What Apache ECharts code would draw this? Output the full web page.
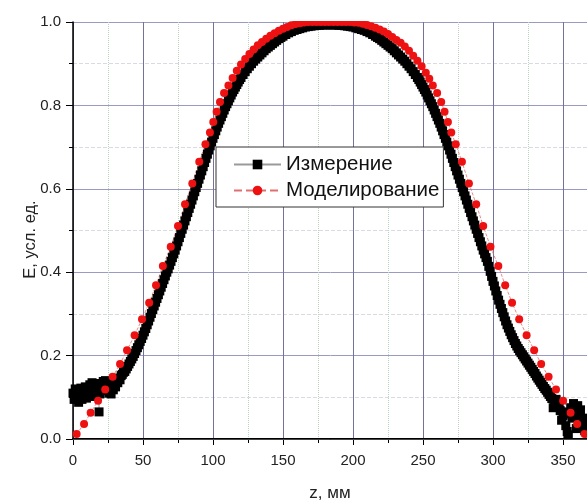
<!DOCTYPE html>
<html>
<head>
<meta charset="utf-8">
<script src="https://cdn.jsdelivr.net/npm/echarts@6/dist/echarts.min.js"></script>
<style>html,body{margin:0;padding:0;background:#fff}#c{width:587px;height:504px}</style>
</head>
<body>
<div id="c"></div>
<script>
var seriesNames = ['Измерение', 'Моделирование'];
var xTicks = [0, 50, 100, 150, 200, 250, 300, 350, 400];
var yTicks = [0.0, 0.2, 0.4, 0.6, 0.8, 1.0];

// Measurement: [z, E]
var measured = [
[0,.11],[0.8,.095],[1.6,.12],[2.4,.10],[3.2,.115],[4,.088],[4.8,.108],[5.6,.122],[6.4,.095],[7.2,.113],[8,.104],[8.8,.125],[9.6,.098],[10.4,.118],[11.2,.108],[12,.13],[12.8,.105],[13.6,.135],[14.4,.117],[15.2,.102],[16,.128],[16.8,.112],[17.6,.133],[18.6,.065],[19.2,.108],[20,.132],[20.8,.118],[21.6,.138],[22.4,.122],[23.2,.14],[24,.116],[24.8,.132],[25.6,.11],[26.4,.128],[27.2,.108],[28,.126],[28.8,.118],[29.6,.134],[30.4,.125],[31.2,.14],[32,.135],[32.8,.146],[33.6,.142],[34.4,.152],[35.2,.155],[36,.16],[37,.162],[38,.168],[39,.174],[40,.18],[41,.186],[42,.192],[43,.198],[44,.205],[45,.212],[46,.219],[47,.226],[48,.234],[49,.241],[50,.249],[51,.257],[52,.265],[53,.274],[54,.283],[55,.292],[56,.301],[57,.31],[58,.319],[59,.328],[60,.337],[61,.346],[62,.355],[63,.364],[64,.373],[65,.382],[66,.391],[67,.40],[68,.408],[69,.417],[70,.426],[71,.435],[72,.444],[73,.453],[74,.463],[75,.473],[76,.483],[77,.493],[78,.503],[79,.513],[80,.523],[81,.533],[82,.543],[83,.553],[84,.563],[85,.573],[86,.583],[87,.593],[88,.603],[89,.613],[90,.623],[91,.633],[92,.643],[93,.653],[94,.663],[95,.673],[96,.683],[97,.693],[98,.703],[99,.712],[100,.721],[101,.73],[102,.739],[103,.748],[104,.757],[105,.765],[106,.773],[107,.781],[108,.789],[109,.797],[110,.804],[111,.811],[112,.818],[113,.825],[114,.832],[115,.838],[116,.844],[117,.85],[118,.856],[119,.862],[120,.867],[121.5,.874],[123,.881],[124.5,.888],[126,.894],[127.5,.9],[129,.906],[130.5,.911],[132,.916],[133.5,.921],[135,.926],[136.5,.931],[138,.936],[139.5,.94],[141,.944],[142.5,.948],[144,.952],[145.5,.956],[147,.96],[148.5,.963],[150,.966],[152,.97],[154,.974],[156,.977],[158,.98],[160,.982],[162,.984],[164,.986],[166,.988],[168,.989],[170,.99],[172,.991],[174,.992],[176,.992],[178,.993],[180,.993],[182,.993],[184,.993],[186,.993],[188,.993],[190,.992],[192,.992],[194,.991],[196,.99],[198,.989],[200,.988],[202,.986],[204,.984],[206,.982],[208,.98],[210,.977],[212,.974],[214,.97],[216,.966],[217.5,.963],[219,.96],[220.5,.956],[222,.952],[223.5,.948],[225,.944],[226.5,.94],[228,.936],[229.5,.931],[231,.926],[232.5,.921],[234,.916],[235.5,.911],[237,.906],[238.5,.90],[240,.894],[241.5,.888],[243,.881],[244.5,.874],[246,.867],[247,.862],[248,.856],[249,.85],[250,.844],[251,.838],[252,.832],[253,.825],[254,.818],[255,.811],[256,.804],[257,.797],[258,.789],[259,.781],[260,.773],[261,.765],[262,.757],[263,.748],[264,.739],[265,.73],[266,.721],[267,.712],[268,.703],[269,.693],[270,.683],[271,.673],[272,.663],[273,.653],[274,.643],[275,.633],[276,.623],[277,.613],[278,.603],[279,.593],[280,.583],[281,.573],[282,.563],[283,.553],[284,.543],[285,.533],[286,.523],[287,.513],[288,.503],[289,.493],[290,.483],[291,.473],[292,.463],[293,.453],[294,.444],[295,.435],[296,.426],[297,.414],[298,.402],[299,.39],[300,.378],[301,.367],[302,.355],[303,.344],[304,.333],[305,.323],[306,.313],[307,.303],[308,.293],[309,.283],[310,.274],[311,.266],[312,.258],[313,.25],[314,.243],[315,.236],[316,.229],[317,.223],[318,.217],[319,.212],[320,.207],[321,.202],[322,.197],[323,.192],[324,.187],[325,.182],[326,.177],[327,.172],[328,.167],[329,.162],[330,.157],[331,.151],[332,.146],[333,.141],[334,.136],[335,.131],[336,.126],[337,.121],[338,.117],[339,.112],[340,.107],[341,.102],[342,.097],[343,.075],[344,.087],[345,.095],[346,.077],[347,.085],[348,.068],[349,.045],[350,.055],[351,.065],[352,.032],[353,.018],[353.8,.01],[354.5,.06],[355.5,.075],[356.5,.05],[357.5,.085],[358.5,.065],[359.5,.025],[360.5,.08],[361.5,.055],[362.5,.07],[363.5,.03],[364.5,.05],[365.5,.02],[366.5,.04],[367.5,.015]
];

// Simulation: [z, E]
var modeled = [
[2.6,.012],[7.9,.036],[12.6,.063],[17.9,.092],[23,.119],[28.3,.149],[33.6,.18],[38.6,.213],[44,.249],[49.3,.287],[54.4,.327],[59.3,.369],[64.2,.415],[69.8,.461],[75,.511],[80,.563],[85.2,.613],[90.2,.665],[94.6,.707],[97.8,.735],[100.2,.76],[102.6,.785],[105,.808],[107.9,.83],[111,.848],[114,.866],[117,.883],[120,.898],[123,.911],[126,.923],[129,.934],[132,.944],[135,.952],[138,.96],[141,.967],[144,.973],[147,.979],[150,.984],[153,.988],[156,.992],[159,.995],[162,.997],[165,.999],[168,1],[171,1],[174,1],[177,1],[180,1],[183,1],[186,1],[189,1],[192,1],[195,1],[198,1],[201,.999],[204,.998],[207,.996],[210,.993],[213,.99],[216,.986],[219,.982],[222,.977],[225,.971],[228,.964],[231,.957],[234,.95],[237,.941],[240,.931],[243,.919],[246,.907],[249,.894],[252,.878],[254.5,.864],[257,.848],[260.1,.83],[263,.808],[265.4,.785],[267.8,.76],[270.2,.735],[273.4,.707],[277.8,.665],[282.8,.613],[288,.563],[293,.511],[298.2,.461],[303.8,.415],[308.7,.369],[313.6,.327],[318.7,.287],[324,.249],[329.4,.213],[334.4,.18],[339.7,.149],[345,.119],[350.1,.092],[355.4,.063],[360.1,.036],[365.4,.012]
];

var FONT = "'Liberation Sans', Arial, sans-serif";
var chart = echarts.init(document.getElementById('c'), null, {renderer: 'canvas'});
chart.setOption({
  animation: false,
  backgroundColor: '#fff',
  grid: {left: 73, top: 22, width: 560, height: 417, containLabel: false, outerBoundsMode: 'none'},
  legend: {
    orient: 'vertical', left: 216, top: 147,
    data: seriesNames,
    backgroundColor: '#fff', borderColor: '#333', borderWidth: 1, borderRadius: 0,
    padding: [7, 4, 6, 17],
    itemWidth: 47, itemHeight: 12, itemGap: 5,
    textStyle: {fontFamily: FONT, fontSize: 20.5, color: '#111'}
  },
  xAxis: [{
    type: 'value', min: 0, max: 400, interval: 50,
    name: 'z, мм', nameLocation: 'middle', nameGap: 46, nameMoveOverlap: false,
    nameTextStyle: {fontFamily: FONT, fontSize: 17, color: '#222', padding: [0, 46, 0, 0]},
    axisLine: {show: true, onZero: false, lineStyle: {color: '#000', width: 2}},
    axisTick: {show: true, inside: false, length: 6, lineStyle: {color: '#000', width: 1}},
    minorTick: {show: true, splitNumber: 2, length: 4, lineStyle: {color: '#000', width: 1}},
    axisLabel: {fontFamily: FONT, fontSize: 15, color: '#222', margin: 14,
      formatter: function (v) { return xTicks.indexOf(v) >= 0 ? String(v) : ''; }},
    splitLine: {show: true, lineStyle: {color: '#72729a', width: 1}},
    minorSplitLine: {show: true, lineStyle: {color: '#bcd4bc', width: 1, type: 'dotted'}}
  }, {
    type: 'value', min: 0, max: 400, position: 'top', z: 150,
    axisLine: {show: true, lineStyle: {color: '#444', width: 1}},
    axisTick: {show: false}, axisLabel: {show: false}, splitLine: {show: false}
  }],
  yAxis: {
    type: 'value', min: 0, max: 1, interval: 0.2,
    name: 'E, усл. ед.', nameLocation: 'middle', nameGap: 34, nameRotate: 90, nameMoveOverlap: false,
    nameTextStyle: {fontFamily: FONT, fontSize: 16.5, color: '#222', padding: [0, 18, 0, 0]},
    axisLine: {show: true, lineStyle: {color: '#000', width: 1.5}},
    axisTick: {show: true, inside: false, length: 7, lineStyle: {color: '#000', width: 1}},
    minorTick: {show: true, splitNumber: 2, length: 4, lineStyle: {color: '#000', width: 1}},
    axisLabel: {fontFamily: FONT, fontSize: 15, color: '#222', margin: 12,
      formatter: function (v) { return yTicks.some(function (t) { return Math.abs(t - v) < 1e-9; }) ? v.toFixed(1) : ''; }},
    splitLine: {show: true, lineStyle: {color: '#9a9ac4', width: 1}},
    minorSplitLine: {show: true, lineStyle: {color: '#dadae4', width: 1, type: 'dashed'}}
  },
  graphic: [{
    type: 'rect', left: 74, top: 0, z: 100,
    shape: {width: 513, height: 21}, style: {fill: '#fff'}
  }],
  series: [{
    name: seriesNames[0], type: 'line', data: measured,
    symbol: 'rect', symbolSize: 9, showSymbol: true,
    itemStyle: {color: '#000'},
    lineStyle: {color: '#9a9a9a', width: 0.6},
    emphasis: {disabled: true}
  }, {
    name: seriesNames[1], type: 'line', data: modeled,
    symbol: 'circle', symbolSize: 8, showSymbol: true,
    itemStyle: {color: '#ee1111'},
    lineStyle: {color: '#e07070', width: 0.8, type: 'dashed'},
    emphasis: {disabled: true}
  }]
});
</script>
</body>
</html>
